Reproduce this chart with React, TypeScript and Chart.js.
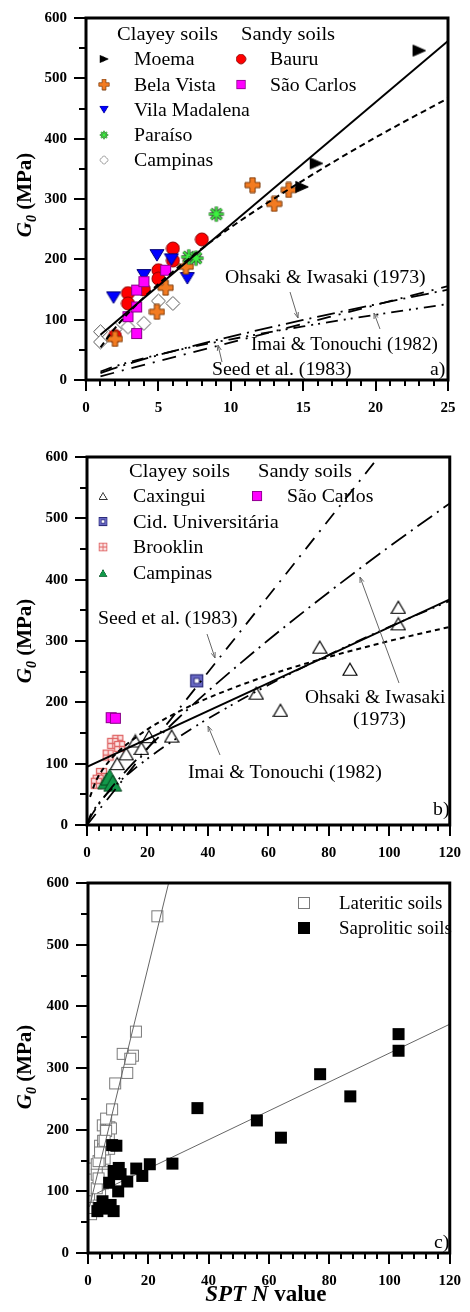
import React, { useEffect, useRef } from "react";
import { Chart, registerables } from "chart.js";
Chart.register(...registerables);

const SERIF = "'Liberation Serif', 'Times New Roman', Times, serif";

// ---------------- Panel a) (lateritic soils) ----------------
const moemaN = [23.0, 15.9, 14.9];
const moemaG = [546, 359, 320];
const belaVistaN = [11.5, 14.0, 13.0, 6.9, 5.5, 4.9, 2.0];
const belaVistaG = [323, 315, 292, 188, 153, 113, 68];
const vilaMadalenaN = [1.9, 4.9, 4.0, 7.0, 5.9];
const vilaMadalenaG = [137, 207, 174, 169, 200];
const paraisoN = [9.0, 7.1, 7.6];
const paraisoG = [275, 204, 202];
const campinasAN = [1.0, 1.0, 2.0, 2.9, 4.0, 5.0, 6.0];
const campinasAG = [80, 63, 84, 88, 94, 131, 127];
const bauruN = [2.0, 2.9, 2.9, 4.0, 5.0, 5.0, 6.0, 6.0, 8.0];
const bauruG = [73, 144, 127, 150, 182, 168, 218, 198, 233];
const saoCarlosAN = [2.9, 3.5, 3.5, 3.5, 4.0, 5.5];
const saoCarlosAG = [105, 121, 77, 149, 163, 182];

const fitAN = [1, 25];
const fitAG = [75, 562];
const powAN = [1, 2, 4, 7, 10, 15, 20, 25];
const powAG = [54, 86, 137, 199, 253, 331, 402, 467];

// literature correlations
const ohsakiN = [0, 1, 2, 4, 7, 10, 15, 20, 25, 30, 40, 60, 80, 100, 120];
const ohsakiG = [0, 11.4, 19.8, 34.5, 54.1, 71.9, 99.5, 125.3, 149.7, 173.2, 218.1, 301.6, 379.6, 453.8, 524.4];
const imaiN = [0, 1, 2, 4, 7, 10, 15, 20, 25, 30, 40, 60, 80, 100, 120];
const imaiG = [0, 14.1, 22.6, 36.2, 53.0, 67.5, 88.9, 108.1, 125.8, 142.4, 173.3, 228.3, 277.5, 323.0, 365.6];
const seedN = [0, 1, 25, 100];
const seedG = [0, 6.2, 155.5, 622];

// ---------------- Panel b) (saprolitic soils) ----------------
const caxinguiN = [103, 103, 77, 87, 56, 64, 28, 20.5, 16, 18, 13, 10];
const caxinguiG = [355, 328, 290, 254, 215, 187, 145, 144, 137, 125, 116, 100];
const cidUnivN = [36.3];
const cidUnivG = [235];
const brooklinN = [10.2, 8.5, 10.8, 7.0, 4.8, 3.7, 3.1];
const brooklinG = [138, 133, 128, 114, 84, 73, 68];
const campinasBN = [6.5, 7.5, 8.5];
const campinasBG = [72, 78, 68];
const saoCarlosBN = [8.0, 9.4];
const saoCarlosBG = [175, 174];

const fitBN = [0, 120];
const fitBG = [95, 368];
const powBN = [1, 3, 6, 10, 20, 30, 40, 60, 80, 100, 120];
const powBG = [46, 72, 96, 118, 156, 184, 207, 244, 274, 300, 323];

// ---------------- Panel c) ----------------
const latFitN = [0.5, 27];
const latFitG = [75, 605];
const sapFitN = [3, 120];
const sapFitG = [97, 371];

const pts = (xs: number[], ys: number[]) => xs.map((x, i) => ({ x, y: ys[i] }));
const ptsRange = (xs: number[], ys: number[], lo: number, hi: number) =>
  pts(xs, ys).filter((p) => p.x >= lo && p.x <= hi);

function mk(w: number, h: number, draw: (c: CanvasRenderingContext2D) => void) {
  const cv = document.createElement("canvas");
  cv.width = w;
  cv.height = h;
  const c = cv.getContext("2d")!;
  draw(c);
  return cv;
}

function makeMarkers() {
  const poly = (c: CanvasRenderingContext2D, p: number[][], fill: string, stroke: string, lw = 1) => {
    c.beginPath();
    c.moveTo(p[0][0], p[0][1]);
    for (let i = 1; i < p.length; i++) c.lineTo(p[i][0], p[i][1]);
    c.closePath();
    c.fillStyle = fill;
    c.fill();
    c.lineWidth = lw;
    c.strokeStyle = stroke;
    c.stroke();
  };
  return {
    moema: mk(15, 14, (c) => poly(c, [[1.5, 1.5], [14, 7], [1.5, 12.5]], "#000", "#000")),
    bauru: mk(15, 15, (c) => {
      c.beginPath();
      c.arc(7.5, 7.5, 6.5, 0, Math.PI * 2);
      c.fillStyle = "#FF0000";
      c.fill();
      c.strokeStyle = "#8A0000";
      c.lineWidth = 1;
      c.stroke();
    }),
    bela: mk(17, 17, (c) => {
      const a = 2.6, L = 7.5, x = 8.5, y = 8.5;
      poly(c, [[x - a, y - L], [x + a, y - L], [x + a, y - a], [x + L, y - a], [x + L, y + a], [x + a, y + a], [x + a, y + L], [x - a, y + L], [x - a, y + a], [x - L, y + a], [x - L, y - a], [x - a, y - a]], "#F37B21", "#7B3A0A");
    }),
    saoCarlos: mk(13, 13, (c) => {
      c.fillStyle = "#FF00FF";
      c.fillRect(1, 1, 11, 11);
      c.strokeStyle = "#8B008B";
      c.lineWidth = 1;
      c.strokeRect(1.5, 1.5, 10, 10);
    }),
    vila: mk(16, 14, (c) => poly(c, [[1, 1.5], [15, 1.5], [8, 13]], "#0000FF", "#00007A")),
    paraiso: mk(18, 18, (c) => {
      const draw = (col: string, lw: number) => {
        c.strokeStyle = col;
        c.lineWidth = lw;
        c.beginPath();
        for (let k = 0; k < 4; k++) {
          const ang = (k * Math.PI) / 4;
          c.moveTo(9 - 7.5 * Math.cos(ang), 9 - 7.5 * Math.sin(ang));
          c.lineTo(9 + 7.5 * Math.cos(ang), 9 + 7.5 * Math.sin(ang));
        }
        c.stroke();
      };
      draw("#3B5A3B", 3.4);
      draw("#3CF23F", 1.6);
      c.beginPath();
      c.arc(9, 9, 2.4, 0, Math.PI * 2);
      c.fillStyle = "#3CF23F";
      c.fill();
    }),
    diamond: mk(17, 17, (c) => poly(c, [[8.5, 1.5], [15.5, 8.5], [8.5, 15.5], [1.5, 8.5]], "#fff", "#555")),
    caxingui: mk(16, 15, (c) => poly(c, [[8, 1.5], [15, 13.5], [1, 13.5]], "#fff", "#000", 1.2)),
    cid: mk(15, 15, (c) => {
      c.fillStyle = "#6A6AC6";
      c.fillRect(1, 1, 13, 13);
      c.strokeStyle = "#2B2B7A";
      c.lineWidth = 1.2;
      c.strokeRect(1.5, 1.5, 12, 12);
      c.fillStyle = "#fff";
      c.fillRect(5, 5, 5, 5);
      c.lineWidth = 1;
      c.strokeRect(5, 5, 5, 5);
    }),
    brooklin: mk(13, 13, (c) => {
      c.fillStyle = "#FCE6E6";
      c.fillRect(1.5, 1.5, 10, 10);
      c.strokeStyle = "#E06666";
      c.lineWidth = 1.3;
      c.strokeRect(1.5, 1.5, 10, 10);
      c.beginPath();
      c.moveTo(6.5, 1.5);
      c.lineTo(6.5, 11.5);
      c.moveTo(1.5, 6.5);
      c.lineTo(11.5, 6.5);
      c.stroke();
    }),
    campinasB: mk(20, 18, (c) => poly(c, [[10, 1], [19, 17], [1, 17]], "#12994A", "#08421F")),
    lateritic: mk(14, 14, (c) => {
      c.fillStyle = "#fff";
      c.fillRect(1, 1, 12, 12);
      c.strokeStyle = "#7A7A7A";
      c.lineWidth = 1;
      c.strokeRect(1.5, 1.5, 11, 11);
    }),
    saprolitic: mk(14, 14, (c) => {
      c.fillStyle = "#000";
      c.fillRect(1, 1, 12, 12);
    }),
  };
}

type TextItem = { t: string; x: number; y: number; sx?: number };
type LegendItem = { m: HTMLCanvasElement; x: number; y: number; w: number };
interface Panel {
  top: number;
  height: number;
  area: { l: number; r: number; t: number; b: number };
  xMax: number;
  xMajor: number;
  xMinor: number;
  yTitleY: number;
  texts: TextItem[];
  arrows: number[][];
  legend: LegendItem[];
  xTitle?: boolean;
  datasets: any[];
}

function drawText(ctx: CanvasRenderingContext2D, t: string, x: number, y: number, font: string, sx: number) {
  ctx.save();
  ctx.font = font;
  ctx.textBaseline = "alphabetic";
  ctx.textAlign = "left";
  ctx.translate(x, y);
  ctx.scale(sx, 1);
  ctx.fillStyle = "#000";
  ctx.fillText(t, 0, 0);
  ctx.restore();
}

function makePlugin(p: Panel) {
  return {
    id: "decor",
    afterDraw(chart: any) {
      const ctx: CanvasRenderingContext2D = chart.ctx;
      const { left, right, top, bottom } = chart.chartArea;
      const xs = chart.scales.x;
      const ys = chart.scales.y;
      const oy = p.top;
      ctx.save();
      // tick marks
      ctx.strokeStyle = "#000";
      ctx.lineWidth = 2;
      ctx.beginPath();
      for (let v = 0; v <= p.xMax + 1e-9; v += p.xMinor) {
        const px = Math.round(xs.getPixelForValue(v));
        const len = v % p.xMajor === 0 ? 11 : 6;
        ctx.moveTo(px, bottom);
        ctx.lineTo(px, bottom + len);
      }
      for (let v = 0; v <= 600; v += 50) {
        const py = Math.round(ys.getPixelForValue(v));
        const len = v % 100 === 0 ? 12 : 7;
        ctx.moveTo(left, py);
        ctx.lineTo(left - len, py);
      }
      ctx.stroke();
      // frame
      ctx.lineWidth = 3;
      ctx.strokeRect(left, top, right - left, bottom - top);

      // arrows
      ctx.strokeStyle = "#666";
      ctx.lineWidth = 1;
      for (const a of p.arrows) {
        const [x1, y1, x2, y2] = [a[0], a[1] - oy, a[2], a[3] - oy];
        ctx.beginPath();
        ctx.moveTo(x1, y1);
        ctx.lineTo(x2, y2);
        ctx.stroke();
        const ang = Math.atan2(y2 - y1, x2 - x1);
        ctx.beginPath();
        ctx.moveTo(x2, y2);
        ctx.lineTo(x2 - 6 * Math.cos(ang - 0.35), y2 - 6 * Math.sin(ang - 0.35));
        ctx.moveTo(x2, y2);
        ctx.lineTo(x2 - 6 * Math.cos(ang + 0.35), y2 - 6 * Math.sin(ang + 0.35));
        ctx.stroke();
      }

      // texts
      for (const t of p.texts) {
        drawText(ctx, t.t, t.x, t.y - oy, `18px ${SERIF}`, t.sx || 1.1);
      }
      // legend markers
      for (const L of p.legend) {
        const h = (L.m.height * L.w) / L.m.width;
        ctx.drawImage(L.m, L.x - L.w / 2, L.y - oy - h / 2, L.w, h);
      }

      // y title
      ctx.save();
      ctx.translate(31, p.yTitleY - oy);
      ctx.rotate(-Math.PI / 2);
      ctx.fillStyle = "#000";
      ctx.textBaseline = "alphabetic";
      const f1 = `italic bold 21px ${SERIF}`;
      const f2 = `italic bold 14px ${SERIF}`;
      const f3 = `bold 21px ${SERIF}`;
      ctx.font = f1;
      const wG = ctx.measureText("G").width;
      ctx.font = f2;
      const w0 = ctx.measureText("0").width;
      ctx.font = f3;
      const wR = ctx.measureText(" (MPa)").width;
      let x0 = -(wG + w0 + wR) / 2;
      ctx.font = f1;
      ctx.fillText("G", x0, 0);
      x0 += wG;
      ctx.font = f2;
      ctx.fillText("0", x0, 5);
      x0 += w0;
      ctx.font = f3;
      ctx.fillText(" (MPa)", x0, 0);
      ctx.restore();

      // x title
      if (p.xTitle) {
        const g1 = `italic bold 23px ${SERIF}`;
        const g2 = `bold 23px ${SERIF}`;
        ctx.font = g1;
        const a1 = ctx.measureText("SPT N").width;
        ctx.font = g2;
        const a2 = ctx.measureText(" value").width;
        const cx = (left + right) / 2 - 3;
        let xx = cx - (a1 + a2) / 2;
        const yy = 1301 - oy;
        ctx.fillStyle = "#000";
        ctx.textBaseline = "alphabetic";
        ctx.font = g1;
        ctx.fillText("SPT N", xx, yy);
        xx += a1;
        ctx.font = g2;
        ctx.fillText(" value", xx, yy);
      }
      ctx.restore();
    },
  };
}

function lineDs(data: any[], dash: number[], width = 2, color = "#000") {
  return {
    data,
    showLine: true,
    pointRadius: 0,
    borderColor: color,
    borderWidth: width,
    borderDash: dash,
    fill: false,
    cubicInterpolationMode: "monotone",
  };
}
function ptDs(data: any[], m: HTMLCanvasElement) {
  return { data, pointStyle: m, pointRadius: 7, showLine: false };
}

function buildPanels(M: any): Panel[] {
  const lateritic = pts(
    [...moemaN, ...belaVistaN, ...vilaMadalenaN, ...paraisoN, ...campinasAN, ...bauruN, ...saoCarlosAN],
    [...moemaG, ...belaVistaG, ...vilaMadalenaG, ...paraisoG, ...campinasAG, ...bauruG, ...saoCarlosAG]
  );
  const saprolitic = pts(
    [...caxinguiN, ...cidUnivN, ...brooklinN, ...campinasBN, ...saoCarlosBN],
    [...caxinguiG, ...cidUnivG, ...brooklinG, ...campinasBG, ...saoCarlosBG]
  );
  const dOhsaki = [18, 6, 2, 6];
  const dImai = [12, 6, 2, 5, 2, 6];
  const dSeed = [14, 8, 2, 8];
  const a: Panel = {
    top: 0,
    height: 425,
    area: { l: 86, r: 448, t: 18, b: 380 },
    xMax: 25,
    xMajor: 5,
    xMinor: 1,
    yTitleY: 195,
    texts: [
      { t: "Clayey soils", x: 117, y: 40, sx: 1.14 },
      { t: "Sandy soils", x: 241, y: 40, sx: 1.14 },
      { t: "Moema", x: 134, y: 65 },
      { t: "Bela Vista", x: 134, y: 90.5 },
      { t: "Vila Madalena", x: 134, y: 115.7 },
      { t: "Paraíso", x: 134, y: 141 },
      { t: "Campinas", x: 134, y: 166 },
      { t: "Bauru", x: 270, y: 65 },
      { t: "São Carlos", x: 270, y: 90.5 },
      { t: "Ohsaki & Iwasaki (1973)", x: 225, y: 283 },
      { t: "Imai & Tonouchi (1982)", x: 251, y: 350, sx: 1.06 },
      { t: "Seed et al. (1983)", x: 212, y: 375 },
      { t: "a)", x: 430, y: 375 },
    ],
    arrows: [
      [290, 292, 298, 318],
      [380, 329, 374, 313],
      [222, 362, 218, 345],
    ],
    legend: [
      { m: M.moema, x: 104, y: 59, w: 10 },
      { m: M.bela, x: 104, y: 84.5, w: 12 },
      { m: M.vila, x: 104, y: 109.5, w: 10 },
      { m: M.paraiso, x: 104, y: 135, w: 10 },
      { m: M.diamond, x: 104, y: 160, w: 11 },
      { m: M.bauru, x: 241, y: 59, w: 11 },
      { m: M.saoCarlos, x: 241, y: 84.5, w: 11 },
    ],
    datasets: [
      lineDs(pts(fitAN, fitAG), [], 2),
      lineDs(pts(powAN, powAG), [6, 4], 2),
      lineDs(ptsRange(ohsakiN, ohsakiG, 1, 30), dOhsaki, 1.8),
      lineDs(ptsRange(imaiN, imaiG, 1, 30), dImai, 1.8),
      lineDs(ptsRange(seedN, seedG, 1, 30), dSeed, 1.8),
      ptDs(pts(moemaN, moemaG), M.moema),
      ptDs(pts(paraisoN, paraisoG), M.paraiso),
      ptDs(pts(belaVistaN, belaVistaG), M.bela),
      ptDs(pts(saoCarlosAN, saoCarlosAG), M.saoCarlos),
      ptDs(pts(vilaMadalenaN, vilaMadalenaG), M.vila),
      ptDs(pts(bauruN, bauruG), M.bauru),
      ptDs(pts(campinasAN, campinasAG), M.diamond),
    ],
  };
  const b: Panel = {
    top: 425,
    height: 437,
    area: { l: 87, r: 457, t: 457, b: 825 },
    xMax: 120,
    xMajor: 20,
    xMinor: 4,
    yTitleY: 641,
    texts: [
      { t: "Clayey soils", x: 129, y: 477, sx: 1.14 },
      { t: "Sandy soils", x: 258, y: 477, sx: 1.14 },
      { t: "Caxingui", x: 133, y: 502 },
      { t: "Cid. Universitária", x: 133, y: 527.5, sx: 1.13 },
      { t: "Brooklin", x: 133, y: 553 },
      { t: "Campinas", x: 133, y: 579 },
      { t: "São Carlos", x: 287, y: 502 },
      { t: "Seed et al. (1983)", x: 98, y: 624 },
      { t: "Ohsaki & Iwasaki", x: 305, y: 703, sx: 1.08 },
      { t: "(1973)", x: 353, y: 725 },
      { t: "Imai & Tonouchi (1982)", x: 188, y: 778 },
      { t: "b)", x: 433, y: 815 },
    ],
    arrows: [
      [207, 634, 215, 658],
      [399, 683, 360, 577],
      [220, 755, 208, 726],
    ],
    legend: [
      { m: M.caxingui, x: 103, y: 496, w: 9 },
      { m: M.cid, x: 103, y: 521.5, w: 10 },
      { m: M.brooklin, x: 103, y: 547, w: 10 },
      { m: M.campinasB, x: 103, y: 573, w: 9 },
      { m: M.saoCarlos, x: 257, y: 496, w: 12 },
    ],
    datasets: [
      lineDs(pts(fitBN, fitBG), [], 2),
      lineDs(pts(powBN, powBG), [5, 4], 2),
      lineDs(pts(ohsakiN, ohsakiG), dOhsaki, 1.8),
      lineDs(pts(imaiN, imaiG), dImai, 1.8),
      lineDs(pts(seedN, seedG), dSeed, 1.8),
      ptDs(pts(saoCarlosBN, saoCarlosBG), M.saoCarlos),
      ptDs(pts(campinasBN, campinasBG), M.campinasB),
      ptDs(pts(cidUnivN, cidUnivG), M.cid),
      ptDs(pts(caxinguiN, caxinguiG), M.caxingui),
      ptDs(pts(brooklinN, brooklinG), M.brooklin),
    ],
  };
  const c: Panel = {
    top: 862,
    height: 450,
    area: { l: 88, r: 457, t: 883, b: 1253 },
    xMax: 120,
    xMajor: 20,
    xMinor: 4,
    yTitleY: 1067,
    xTitle: true,
    texts: [
      { t: "Lateritic soils", x: 339, y: 909, sx: 1.05 },
      { t: "Saprolitic soils", x: 339, y: 934, sx: 1.05 },
      { t: "c)", x: 434, y: 1248 },
    ],
    arrows: [],
    legend: [
      { m: M.lateritic, x: 304, y: 903, w: 14 },
      { m: M.saprolitic, x: 304, y: 928, w: 14 },
    ],
    datasets: [
      ptDs(saprolitic, M.saprolitic),
      lineDs(pts(sapFitN, sapFitG), [], 1, "#666"),
      lineDs(pts(latFitN, latFitG), [], 1, "#666"),
      ptDs(lateritic, M.lateritic),
    ],
  };
  return [a, b, c];
}

function PanelChart({ panel }: { panel: Panel }) {
  const ref = useRef<HTMLCanvasElement>(null);
  useEffect(() => {
    const p = panel;
    const tickFont = { family: SERIF, size: 15, weight: "bold" as const };
    const chart = new Chart(ref.current!, {
      type: "scatter",
      data: { datasets: p.datasets },
      options: {
        responsive: false,
        animation: false,
        events: [],
        layout: { padding: { left: 0, top: p.area.t - p.top, right: 470 - p.area.r, bottom: 0 } },
        plugins: { legend: { display: false }, tooltip: { enabled: false } },
        scales: {
          x: {
            type: "linear",
            min: 0,
            max: p.xMax,
            afterFit: (s: any) => {
              s.height = p.top + p.height - p.area.b;
            },
            ticks: { stepSize: p.xMajor, color: "#000", font: tickFont, padding: 9, maxRotation: 0, autoSkip: false },
            grid: { display: true, drawOnChartArea: false, drawTicks: true, tickLength: 10, color: "rgba(0,0,0,0)" },
            border: { display: false },
          },
          y: {
            type: "linear",
            min: 0,
            max: 600,
            afterFit: (s: any) => {
              s.width = p.area.l;
            },
            ticks: { stepSize: 100, color: "#000", font: tickFont, padding: 7 },
            grid: { display: true, drawOnChartArea: false, drawTicks: true, tickLength: 12, color: "rgba(0,0,0,0)" },
            border: { display: false },
          },
        },
      } as any,
      plugins: [makePlugin(p)],
    });
    return () => chart.destroy();
  }, [panel]);
  return (
    <div style={{ position: "absolute", left: 0, top: panel.top, width: 470, height: panel.height }}>
      <canvas ref={ref} width={470} height={panel.height} style={{ display: "block" }} />
    </div>
  );
}

export default function App() {
  const [panels, setPanels] = React.useState<Panel[] | null>(null);
  useEffect(() => {
    setPanels(buildPanels(makeMarkers()));
  }, []);
  return (
    <div style={{ position: "absolute", left: 0, top: 0, width: 470, height: 1312, background: "#fff" }}>
      {panels && panels.map((p, i) => <PanelChart key={i} panel={p} />)}
    </div>
  );
}
